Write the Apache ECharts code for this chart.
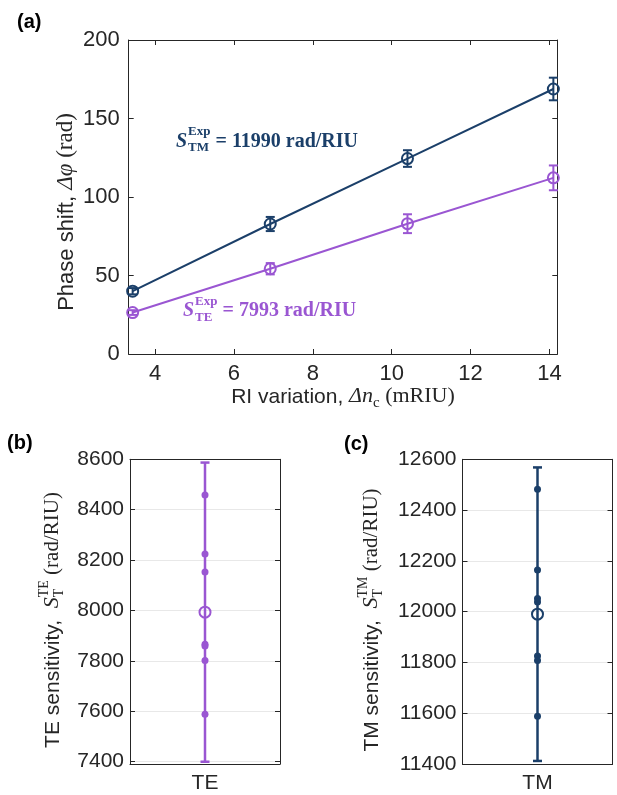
<!DOCTYPE html>
<html>
<head>
<meta charset="utf-8">
<script src="https://cdn.jsdelivr.net/npm/echarts@6/dist/echarts.min.js"></script>
<style>
  html, body { margin: 0; padding: 0; background: #ffffff; }
  #chart { width: 617px; height: 795px; }
</style>
</head>
<body>
<div id="chart"></div>
<script>
// ---- Panel (a): phase shift vs refractive-index variation ----
const riVariation = [3.43, 6.92, 10.40, 14.10];          // mRIU
const tmPhase     = [40.0, 82.8, 124.5, 168.8];          // rad
const tmPhaseErr  = [2.0, 4.5, 5.3, 7.2];
const tePhase     = [26.4, 54.3, 83.0, 112.2];
const tePhaseErr  = [1.5, 3.6, 6.0, 7.9];
const xTicksA     = [4, 6, 8, 10, 12, 14];
const yTicksA     = [0, 50, 100, 150, 200];

// ---- Panels (b), (c): sensitivity of individual trials ----
const teTrials  = [8458, 8224, 8152, 7866, 7859, 7801, 7588];   // rad/RIU
const teMean    = 7993;
const teErrHalf = 594;
const tmTrials  = [12482, 12164, 12052, 12038, 11825, 11808, 11588];
const tmMean    = 11990;
const tmErrHalf = 578;
const yTicksB   = [7400, 7600, 7800, 8000, 8200, 8400, 8600];
const yTicksC   = [11400, 11600, 11800, 12000, 12200, 12400, 12600];

const TM = '#1b3f69';
const TE = '#9a56d2';
const AX = '#262626';
const SANS = '"Liberation Sans", Arial, sans-serif';
const SERIF = '"Liberation Serif", "Times New Roman", serif';

const chart = echarts.init(document.getElementById('chart'), null, { renderer: 'canvas' });

// text measurement for laying out mixed-font titles
const mctx = document.createElement('canvas').getContext('2d');
function textW(t, font) { mctx.font = font; return mctx.measureText(t).width; }
function fnt(style, size, fam) { return style + ' ' + size + 'px ' + fam; }

// Lay out a sequence of text runs on one baseline; runs with `stack`
// share their start x with the following run (super/subscript pairs).
function textRuns(cx, cy, runs, opts) {
  opts = opts || {};
  const items = [];
  let x = 0, stackStart = null, stackW = 0;
  runs.forEach(r => {
    const font = fnt(r.style || 'normal', r.size, r.fam);
    const w = textW(r.t, font);
    let px;
    if (stackStart !== null) {
      px = stackStart;
      x = stackStart + Math.max(stackW, w);
      stackStart = null;
    } else if (r.stack) {
      px = x; stackStart = x; stackW = w;
    } else {
      px = x; x += w;
    }
    px += (r.dx || 0);
    if (!r.stack && r.dx) x += r.dx;
    items.push({ px, r, font });
  });
  const total = x;
  const start = opts.align === 'left' ? 0 : -total / 2;
  const children = items.map(it => ({
    type: 'text',
    x: start + it.px,
    y: (it.r.dy || 0) - 0.34 * it.r.size,
    style: { text: it.r.t, font: it.font, fill: it.r.fill || AX, align: 'left', verticalAlign: 'middle' }
  }));
  return { type: 'group', x: cx, y: cy, rotation: opts.rotate ? Math.PI / 2 : 0, children, silent: true };
}

function errorBarSeries(data, color, xi, yi, halfCap, lw) {
  return {
    type: 'custom',
    xAxisIndex: xi, yAxisIndex: yi,
    data: data,
    z: 3,
    renderItem: function (params, api) {
      const x = api.value(0), y = api.value(1), e = api.value(2);
      const lo = api.coord([x, y - e]);
      const hi = api.coord([x, y + e]);
      const st = { stroke: color, lineWidth: lw, fill: null };
      return {
        type: 'group',
        children: [
          { type: 'line', shape: { x1: lo[0], y1: lo[1], x2: hi[0], y2: hi[1] }, style: st },
          { type: 'line', shape: { x1: lo[0] - halfCap, y1: lo[1], x2: lo[0] + halfCap, y2: lo[1] }, style: st },
          { type: 'line', shape: { x1: hi[0] - halfCap, y1: hi[1], x2: hi[0] + halfCap, y2: hi[1] }, style: st }
        ]
      };
    }
  };
}

const plain = v => String(v);
const axisLine = { show: true, onZero: false, lineStyle: { color: AX, width: 1 } };
const tickIn = (vals) => ({ show: true, inside: true, length: 5, lineStyle: { color: AX, width: 1 }, customValues: vals });
const lab = (vals, margin, size) => ({ show: true, color: AX, fontFamily: SANS, fontSize: size, margin: margin, customValues: vals, formatter: plain });
const noLab = { show: false };
const gridLine = { show: true, lineStyle: { color: '#e8e8e8', width: 1 } };
const catLab = { color: AX, fontFamily: SANS, fontSize: 21, margin: 9 };

const option = {
  animation: false,
  backgroundColor: '#ffffff',
  grid: [
    { left: 128.7, top: 40, width: 428.6, height: 314 },
    { left: 130, top: 459.3, width: 150, height: 304.7 },
    { left: 462.5, top: 459.3, width: 150, height: 304.7 }
  ],
  xAxis: [
    { type: 'value', gridIndex: 0, position: 'bottom', min: 3.33, max: 14.2,
      axisLine, axisTick: tickIn(xTicksA), axisLabel: lab(xTicksA, 9, 22), splitLine: { show: false } },
    { type: 'value', gridIndex: 0, position: 'top', min: 3.33, max: 14.2,
      axisLine, axisTick: tickIn(xTicksA), axisLabel: noLab, splitLine: { show: false } },
    { type: 'category', gridIndex: 1, position: 'bottom', data: ['TE'],
      axisLine, axisTick: { show: false }, axisLabel: catLab },
    { type: 'category', gridIndex: 1, position: 'top', data: ['TE'],
      axisLine, axisTick: { show: false }, axisLabel: noLab },
    { type: 'category', gridIndex: 2, position: 'bottom', data: ['TM'],
      axisLine, axisTick: { show: false }, axisLabel: catLab },
    { type: 'category', gridIndex: 2, position: 'top', data: ['TM'],
      axisLine, axisTick: { show: false }, axisLabel: noLab }
  ],
  yAxis: [
    { type: 'value', gridIndex: 0, position: 'left', min: 0, max: 200, interval: 50,
      axisLine, axisTick: tickIn(yTicksA), axisLabel: lab(yTicksA, 9, 22), splitLine: { show: false } },
    { type: 'value', gridIndex: 0, position: 'right', min: 0, max: 200, interval: 50,
      axisLine, axisTick: tickIn(yTicksA), axisLabel: noLab, splitLine: { show: false } },
    { type: 'value', gridIndex: 1, position: 'left', min: 7390, max: 8600,
      axisLine, axisTick: tickIn(yTicksB), axisLabel: lab(yTicksB, 6, 21), splitLine: gridLine },
    { type: 'value', gridIndex: 1, position: 'right', min: 7390, max: 8600,
      axisLine, axisTick: tickIn(yTicksB), axisLabel: noLab, splitLine: { show: false } },
    { type: 'value', gridIndex: 2, position: 'left', min: 11400, max: 12600,
      axisLine, axisTick: tickIn(yTicksC), axisLabel: lab(yTicksC, 6, 21), splitLine: gridLine },
    { type: 'value', gridIndex: 2, position: 'right', min: 11400, max: 12600,
      axisLine, axisTick: tickIn(yTicksC), axisLabel: noLab, splitLine: { show: false } }
  ],
  series: [
    // panel (a)
    { type: 'line', xAxisIndex: 0, yAxisIndex: 0, z: 4,
      data: riVariation.map((x, i) => [x, tmPhase[i]]),
      symbol: 'circle', symbolSize: 11,
      lineStyle: { color: TM, width: 2 },
      itemStyle: { color: 'rgba(0,0,0,0)', borderColor: TM, borderWidth: 2 } },
    errorBarSeries(riVariation.map((x, i) => [x, tmPhase[i], tmPhaseErr[i]]), TM, 0, 0, 4.5, 2),
    { type: 'line', xAxisIndex: 0, yAxisIndex: 0, z: 4,
      data: riVariation.map((x, i) => [x, tePhase[i]]),
      symbol: 'circle', symbolSize: 11,
      lineStyle: { color: TE, width: 2 },
      itemStyle: { color: 'rgba(0,0,0,0)', borderColor: TE, borderWidth: 2 } },
    errorBarSeries(riVariation.map((x, i) => [x, tePhase[i], tePhaseErr[i]]), TE, 0, 0, 4.5, 2),
    // panel (b)
    errorBarSeries([[0, teMean, teErrHalf]], TE, 2, 2, 4.5, 2.5),
    { type: 'scatter', xAxisIndex: 2, yAxisIndex: 2, z: 4,
      data: teTrials.map(v => [0, v]), symbol: 'circle', symbolSize: 7,
      itemStyle: { color: TE, opacity: 1 } },
    { type: 'scatter', xAxisIndex: 2, yAxisIndex: 2, z: 5,
      data: [[0, teMean]], symbol: 'circle', symbolSize: 11,
      itemStyle: { color: 'rgba(0,0,0,0)', borderColor: TE, borderWidth: 2, opacity: 1 } },
    // panel (c)
    errorBarSeries([[0, tmMean, tmErrHalf]], TM, 4, 4, 4.5, 2.5),
    { type: 'scatter', xAxisIndex: 4, yAxisIndex: 4, z: 4,
      data: tmTrials.map(v => [0, v]), symbol: 'circle', symbolSize: 7,
      itemStyle: { color: TM, opacity: 1 } },
    { type: 'scatter', xAxisIndex: 4, yAxisIndex: 4, z: 5,
      data: [[0, tmMean]], symbol: 'circle', symbolSize: 11,
      itemStyle: { color: 'rgba(0,0,0,0)', borderColor: TM, borderWidth: 2, opacity: 1 } }
  ],
  graphic: [
    // panel letters
    { type: 'text', x: 17, y: 22, style: { text: '(a)', font: fnt('bold', 20, SANS), fill: '#000', verticalAlign: 'middle' } },
    { type: 'text', x: 7, y: 443, style: { text: '(b)', font: fnt('bold', 20, SANS), fill: '#000', verticalAlign: 'middle' } },
    { type: 'text', x: 344, y: 444, style: { text: '(c)', font: fnt('bold', 20, SANS), fill: '#000', verticalAlign: 'middle' } },

    // fitted sensitivity annotations
    textRuns(176, 149, [
      { t: 'S', style: 'italic bold', size: 20, fam: SERIF, fill: TM },
      { t: 'Exp', style: 'bold', size: 13, fam: SERIF, fill: TM, stack: true, dy: -13, dx: 1 },
      { t: 'TM', style: 'bold', size: 13, fam: SERIF, fill: TM, dy: 3, dx: 1 },
      { t: ' = ' + tmMean + ' rad/RIU', style: 'bold', size: 20, fam: SERIF, fill: TM }
    ], { align: 'left' }),
    textRuns(183, 318, [
      { t: 'S', style: 'italic bold', size: 20, fam: SERIF, fill: TE },
      { t: 'Exp', style: 'bold', size: 13, fam: SERIF, fill: TE, stack: true, dy: -12, dx: 1 },
      { t: 'TE', style: 'bold', size: 13, fam: SERIF, fill: TE, dy: 4, dx: 1 },
      { t: ' = ' + teMean + ' rad/RIU', style: 'bold', size: 20, fam: SERIF, fill: TE }
    ], { align: 'left' }),

    // axis titles
    textRuns(74, 212, [
      { t: 'Phase shift, ', size: 22, fam: SANS },
      { t: 'Δφ', style: 'italic', size: 23, fam: SERIF },
      { t: ' (rad)', size: 23, fam: SERIF }
    ], { rotate: true }),
    textRuns(343, 404, [
      { t: 'RI variation, ', size: 21, fam: SANS },
      { t: 'Δn', style: 'italic', size: 22, fam: SERIF },
      { t: 'c', size: 15, fam: SERIF, dy: 4 },
      { t: ' (mRIU)', size: 22, fam: SERIF }
    ]),
    textRuns(60, 620, [
      { t: 'TE sensitivity,  ', size: 21, fam: SANS },
      { t: 'S', style: 'italic', size: 22, fam: SERIF },
      { t: 'TE', size: 14, fam: SERIF, stack: true, dy: -11 },
      { t: 'T', size: 14, fam: SERIF, dy: 4 },
      { t: ' (rad/RIU)', size: 21, fam: SERIF }
    ], { rotate: true }),
    textRuns(379, 620, [
      { t: 'TM sensitivity,  ', size: 21, fam: SANS },
      { t: 'S', style: 'italic', size: 22, fam: SERIF },
      { t: 'TM', size: 14, fam: SERIF, stack: true, dy: -11 },
      { t: 'T', size: 14, fam: SERIF, dy: 4 },
      { t: ' (rad/RIU)', size: 21, fam: SERIF }
    ], { rotate: true })
  ]
};

chart.setOption(option);
</script>
</body>
</html>
